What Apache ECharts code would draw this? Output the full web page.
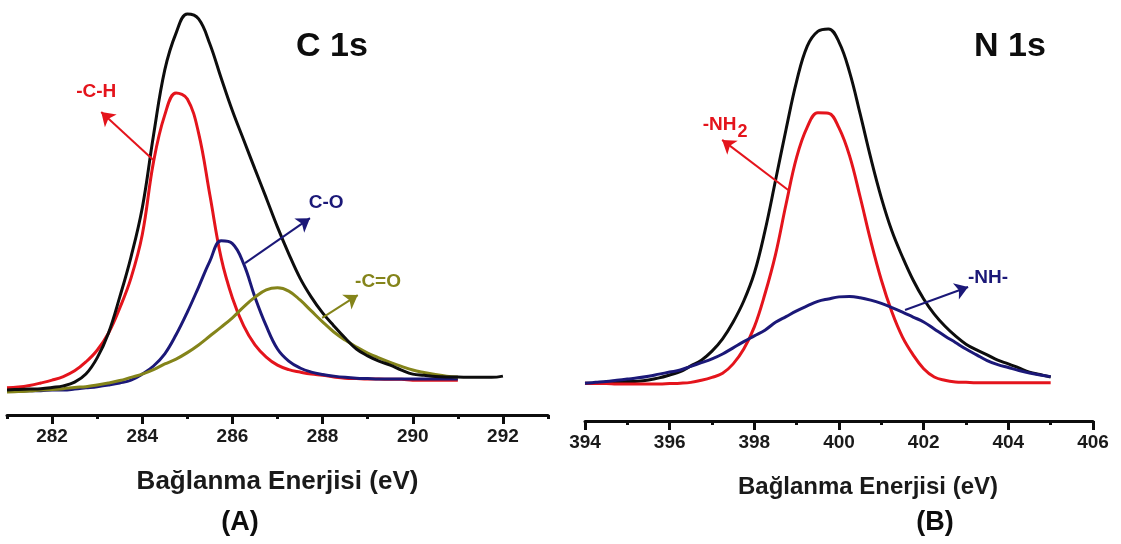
<!DOCTYPE html>
<html>
<head>
<meta charset="utf-8">
<script src="https://cdn.jsdelivr.net/npm/echarts@6.0.0/dist/echarts.min.js"></script>
<style>
html, body { margin: 0; padding: 0; background: #fff; }
#chart { width: 1121px; height: 544px; }
</style>
</head>
<body>
<div id="chart"></div>
<script>
// C 1s panel (A)
var c1sEnergy = [281, 281.25, 281.5, 281.75, 282, 282.25, 282.5, 282.75, 283, 283.25, 283.5, 283.75, 284, 284.25, 284.5, 284.75,
  285, 285.25, 285.5, 285.75, 286, 286.25, 286.5, 286.75, 287, 287.25, 287.5, 287.75, 288, 288.25, 288.5, 288.75,
  289, 289.25, 289.5, 289.75, 290, 290.25, 290.5, 290.75, 291, 291.25, 291.5, 291.75, 292]
var c1sTotal = [6.2, 6.3, 6.4, 6.5, 6.8, 7.2, 8.1, 10.1, 14.1, 20.2, 29.1, 39.0, 51.1, 69.1, 85.2, 94.3,
  99.0, 97.8, 91.6, 83.2, 75.1, 67.9, 60.7, 53.6, 46.4, 39.8, 33.8, 29.1, 25.2, 22.0, 19.0, 16.3,
  14.6, 13.3, 12.3, 11.1, 10.1, 9.8, 9.5, 9.4, 9.4, 9.3, 9.3, 9.3, 9.6]
var c1sCH = [6.7, 6.9, 7.3, 7.9, 8.6, 9.5, 10.9, 13.1, 16.0, 20.2, 26.4, 33.8, 44.5, 62.5, 74.1, 79.5,
  78.0, 69.6, 54.3, 38.8, 28.9, 22.0, 17.3, 14.3, 12.3, 11.2, 10.6, 10.1, 9.8, 9.4, 9.1, 9.0,
  8.9, 8.9, 8.8, 8.8, 8.6, 8.6, 8.6, 8.6, 8.6, null, null, null, null]
var c1sCO = [5.9, 5.9, 6.0, 6.0, 6.2, 6.2, 6.4, 6.7, 7.0, 7.4, 7.9, 8.6, 10.1, 12.1, 15.1, 19.8,
  25.4, 31.6, 38.0, 43.0, 42.3, 37.3, 29.1, 22.0, 16.3, 13.3, 11.6, 10.6, 10.0, 9.6, 9.3, 9.1,
  9.0, 8.9, 8.9, 8.9, 8.9, 8.9, 8.9, 8.9, 8.9, null, null, null, null]
var c1sCeqO = [5.7, 5.8, 5.9, 6.2, 6.3, 6.5, 6.8, 7.0, 7.4, 7.9, 8.5, 9.3, 10.1, 11.2, 12.6, 13.8,
  15.4, 17.3, 19.5, 21.7, 24.0, 26.7, 29.1, 30.9, 31.4, 30.6, 28.4, 25.7, 23.0, 20.5, 18.5, 16.8,
  15.3, 14.1, 13.0, 12.0, 11.1, 10.5, 10.0, 9.6, 9.4, null, null, null, null]
var c1sTickLabels = [282, 284, 286, 288, 290, 292]
var c1sMinorTicks = [281, 283, 285, 287, 289, 291, 293]

// N 1s panel (B)
var n1sEnergy = [394, 394.25, 394.5, 394.75, 395, 395.25, 395.5, 395.75, 396, 396.25, 396.5, 396.75, 397, 397.25, 397.5, 397.75,
  398, 398.25, 398.5, 398.75, 399, 399.25, 399.5, 399.75, 400, 400.25, 400.5, 400.75, 401, 401.25, 401.5, 401.75,
  402, 402.25, 402.5, 402.75, 403, 403.25, 403.5, 403.75, 404, 404.25, 404.5, 404.75, 405]
var n1sTotal = [9.2, 9.2, 9.4, 9.5, 9.6, 9.7, 10.0, 10.5, 11.2, 12.0, 13.4, 14.8, 17.0, 20.0, 24.1, 29.2,
  36.0, 46.2, 58.5, 71.0, 82.7, 91.2, 94.8, 95.4, 92.2, 84.9, 74.7, 64.0, 54.3, 46.2, 39.9, 34.3,
  29.7, 26.0, 23.1, 20.7, 18.7, 17.3, 16.1, 14.8, 13.9, 12.9, 11.9, 11.3, 10.7]
var n1sNH2 = [9.2, 9.1, 9.1, 9.0, 9.0, 9.0, 9.0, 9.0, 9.1, 9.2, 9.4, 9.9, 10.6, 11.6, 13.9, 17.5,
  22.9, 30.9, 40.5, 52.8, 64.2, 71.5, 75.0, 74.9, 71.3, 64.5, 54.5, 43.8, 34.3, 26.5, 20.4, 16.1,
  12.7, 10.7, 9.9, 9.5, 9.4, 9.3, 9.3, 9.3, 9.3, 9.3, 9.3, 9.3, 9.3]
var n1sNH = [9.2, 9.4, 9.6, 9.9, 10.2, 10.5, 10.9, 11.4, 11.9, 12.4, 13.3, 14.2, 15.1, 16.3, 17.8, 19.3,
  20.7, 22.1, 24.0, 25.4, 26.8, 28.0, 29.1, 29.7, 30.2, 30.3, 30.0, 29.4, 28.6, 27.6, 26.5, 25.3,
  24.1, 22.4, 20.7, 19.1, 17.5, 16.1, 14.7, 13.7, 13.0, 12.3, 11.7, 11.2, 10.8]
var n1sTickLabels = [394, 396, 398, 400, 402, 404, 406]
var n1sMinorTicks = [395, 397, 399, 401, 403, 405]

// peak annotations (label, label point, arrow tail, arrow head) in data units
var c1sNotes = [
  ['-C-H', [282.98, 79.8], [284.24, 63.0], [283.09, 74.8]],
  ['C-O', [288.08, 52.3], [286.28, 37.5], [287.72, 48.6]],
  ['-C=O', [289.23, 32.8], [287.99, 24.0], [288.78, 29.6]]
]
var n1sNotes = [
  ['-NH{s|2}', [397.31, 72.0], [398.80, 56.2], [397.24, 68.4]],
  ['-NH-', [403.52, 34.8], [401.56, 27.0], [403.05, 32.6]]
]

var black = '#0d0d0d'
var red = '#e4141c'
var navy = '#1b1878'
var olive = '#84841a'
var font = 'Liberation Sans, Arial, sans-serif'

function pairs (xs, ys) {
  var out = []
  for (var i = 0; i < xs.length; i++) {
    if (ys[i] !== null) out.push([xs[i], ys[i]])
  }
  return out
}

function curve (name, xs, ys, color, axis, note) {
  var s = {
    name: name,
    type: 'line',
    xAxisIndex: axis * 2,
    yAxisIndex: axis,
    data: pairs(xs, ys),
    smooth: 0.4,
    showSymbol: false,
    lineStyle: { color: color, width: 3 },
    silent: true
  }
  if (note) {
    s.markLine = {
      silent: true,
      symbol: ['none', 'arrow'],
      symbolSize: 13,
      label: { show: false },
      lineStyle: { color: color, width: 2, type: 'solid' },
      data: [[{ coord: note[2] }, { coord: note[3] }]]
    }
    s.markPoint = {
      silent: true,
      symbol: 'circle',
      symbolSize: 0,
      data: [{ coord: note[1], name: note[0] }],
      label: {
        show: true,
        position: 'inside',
        formatter: '{b}',
        color: color,
        fontFamily: font,
        fontWeight: 'bold',
        fontSize: 19,
        rich: {
          s: { fontFamily: font, fontWeight: 'bold', fontSize: 18, color: color, padding: [14, 0, 0, 1] }
        }
      }
    }
  }
  return s
}

function bottomAxes (grid, min, max, labels, minor, nameSize, namePad) {
  var labelStyle = { fontFamily: font, fontWeight: 'bold', fontSize: 19, color: '#1a1a1a' }
  return [{
    type: 'value',
    gridIndex: grid,
    position: 'bottom',
    min: min,
    max: max,
    interval: 1,
    splitLine: { show: false },
    axisLine: { show: true, lineStyle: { color: black, width: 3 } },
    axisTick: { show: true, customValues: labels, length: 9, lineStyle: { color: black, width: 3 } },
    axisLabel: Object.assign({ customValues: labels, margin: 12 }, labelStyle),
    name: 'Bağlanma Enerjisi (eV)',
    nameLocation: 'middle',
    nameGap: 54,
    nameTextStyle: { fontFamily: font, fontWeight: 'bold', fontSize: nameSize, color: '#1a1a1a', padding: namePad }
  }, {
    type: 'value',
    gridIndex: grid,
    position: 'bottom',
    min: min,
    max: max,
    interval: 1,
    splitLine: { show: false },
    axisLine: { show: false },
    axisTick: { show: true, customValues: minor, length: 4, lineStyle: { color: black, width: 3 } },
    axisLabel: { show: false }
  }]
}

function text (str, x, y, size) {
  return {
    type: 'text',
    x: x,
    y: y,
    silent: true,
    style: { text: str, fill: '#0d0d0d', font: 'bold ' + size + 'px ' + font, align: 'center', verticalAlign: 'middle' }
  }
}

var chart = echarts.init(document.getElementById('chart'))
chart.setOption({
  animation: false,
  backgroundColor: '#fff',
  grid: [
    { left: 7, width: 541, top: 10, height: 405 },
    { left: 585, width: 508, top: 10, height: 411 }
  ],
  xAxis: bottomAxes(0, 281, 293, c1sTickLabels, c1sMinorTicks, 26, [0, 0, 0, 0])
    .concat(bottomAxes(1, 394, 406, n1sTickLabels, n1sMinorTicks, 24, [0, 0, 0, 58])),
  yAxis: [
    { type: 'value', gridIndex: 0, min: 0, max: 100, show: false },
    { type: 'value', gridIndex: 1, min: 0, max: 100, show: false }
  ],
  graphic: [
    text('C 1s', 332, 47, 34),
    text('N 1s', 1010, 47, 34),
    text('(A)', 240, 523, 27),
    text('(B)', 935, 523, 27)
  ],
  series: [
    curve('-C-H', c1sEnergy, c1sCH, red, 0, c1sNotes[0]),
    curve('C-O', c1sEnergy, c1sCO, navy, 0, c1sNotes[1]),
    curve('-C=O', c1sEnergy, c1sCeqO, olive, 0, c1sNotes[2]),
    curve('C 1s', c1sEnergy, c1sTotal, black, 0, null),
    curve('N 1s', n1sEnergy, n1sTotal, black, 1, null),
    curve('-NH2', n1sEnergy, n1sNH2, red, 1, n1sNotes[0]),
    curve('-NH-', n1sEnergy, n1sNH, navy, 1, n1sNotes[1])
  ]
})
</script>
</body>
</html>
